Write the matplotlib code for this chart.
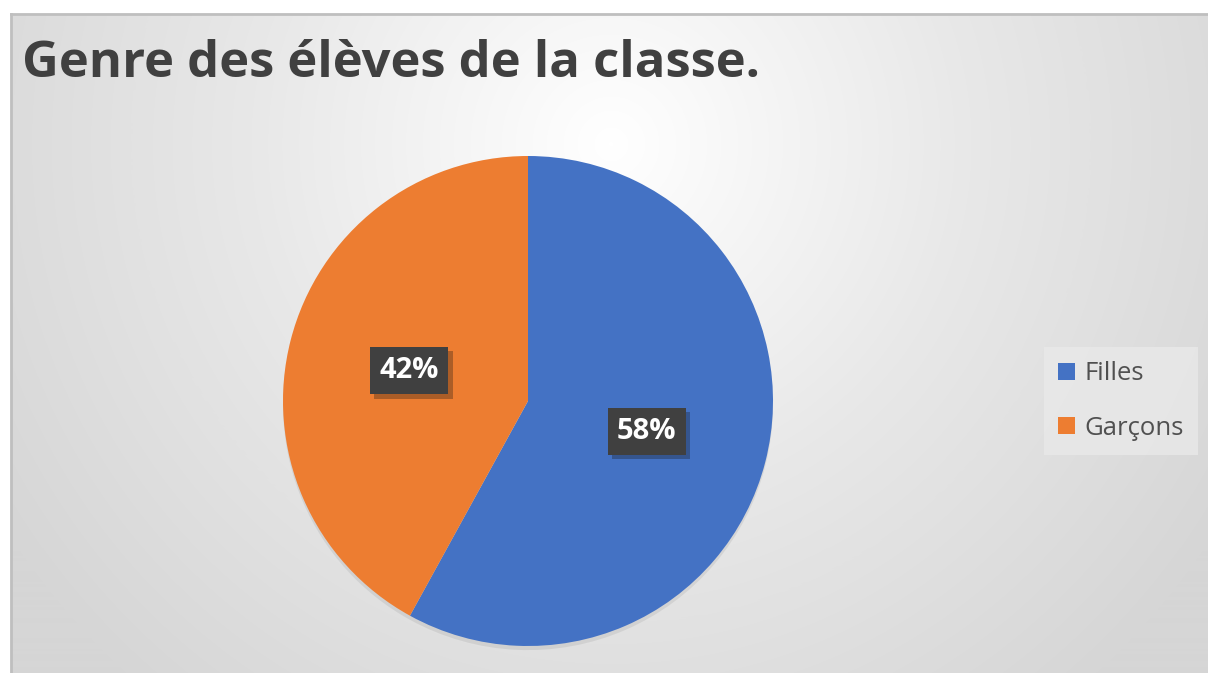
import numpy as np
import matplotlib.pyplot as plt
import matplotlib.patheffects as pe
from matplotlib.colors import LinearSegmentedColormap

categories = ['Filles', 'Garçons']
parts = [58, 42]
colors = ['#4472C4', '#ED7D31']
title = 'Genre des élèves de la classe.'

W, H = 1208, 673
fig = plt.figure(figsize=(W / 100, H / 100), dpi=100)
fig.patch.set_facecolor('white')

# chart area with radial grey gradient
bg = fig.add_axes([11 / W, 0, (W - 11) / W, (H - 14) / H])
yy, xx = np.mgrid[0:660, 0:1197]
d = np.sqrt(((xx - 600) / 1.0) ** 2 + ((yy - 130) / 1.0) ** 2) / 720
cmap = LinearSegmentedColormap.from_list('g', ['#ffffff', '#e8e8e8', '#d6d6d6'])
bg.imshow(np.clip(d, 0, 1), cmap=cmap, vmin=0, vmax=1, aspect='auto',
          extent=[0, 1, 0, 1], origin='upper')
bg.set_xlim(0, 1)
bg.set_ylim(0, 1)
bg.set_xticks([])
bg.set_yticks([])
for s in bg.spines.values():
    s.set_visible(False)
bg.spines['top'].set_visible(True)
bg.spines['left'].set_visible(True)
bg.spines['top'].set_color('#bfbfbf')
bg.spines['left'].set_color('#bfbfbf')
bg.spines['top'].set_linewidth(2)
bg.spines['left'].set_linewidth(2)

fig.text(22 / W, 1 - 77 / H, title, fontsize=36.5, fontweight='bold',
         color='#404040', family='Open Sans', va='baseline', ha='left')

# pie
ax = fig.add_axes([283 / W, 27 / H, 490 / W, 490 / H])
ax.set_facecolor('none')
wedges, texts, autotexts = ax.pie(parts, colors=colors, startangle=90, counterclock=False,
                                  autopct='%d%%', pctdistance=0.5,
                                  wedgeprops=dict(linewidth=0),
                                  shadow=dict(ox=0.0, oy=-0.012, alpha=0.12, shade=0.0, color='#606060'))
ax.set_xlim(-1, 1)
ax.set_ylim(-1, 1)
ax.set_aspect('equal')
for t in autotexts:
    t.set_color('white')
    t.set_fontsize(21)
    t.set_fontweight('bold')
    t.set_family('Open Sans')
    t.set_bbox(dict(boxstyle='square,pad=0.32', facecolor='#404040', edgecolor='none'))
    t.get_bbox_patch().set_path_effects([pe.SimplePatchShadow(offset=(3, -3), alpha=0.3), pe.Normal()])

leg = fig.legend(wedges, categories, loc='center', bbox_to_anchor=(1121 / W, 1 - 401 / H),
                 frameon=True, fancybox=False, prop=dict(family='Open Sans', size=18.5),
                 labelcolor='#505050', handlelength=0.65, handleheight=0.65, handletextpad=0.35,
                 labelspacing=1.15, borderpad=0.55, borderaxespad=0)
leg.get_frame().set_facecolor('#e9e9e9')
leg.get_frame().set_edgecolor('none')

fig.savefig('out.png', dpi=100)
